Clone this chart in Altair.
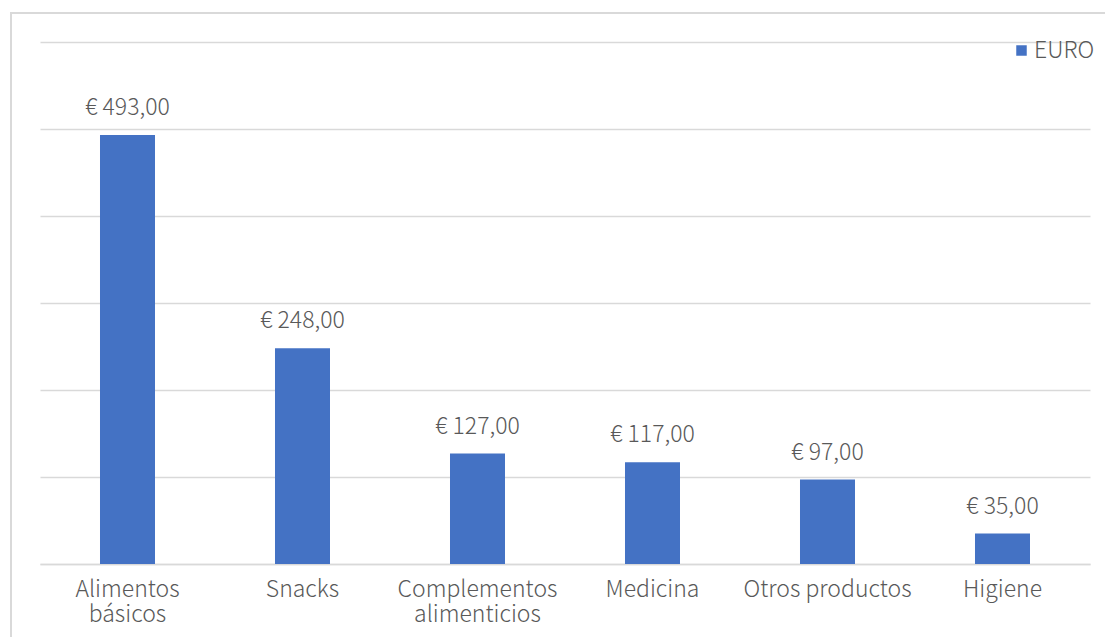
import altair as alt
import pandas as pd

categories = ["Alimentos\nbásicos", "Snacks", "Complementos\nalimenticios", "Medicina", "Otros productos", "Higiene"]
values = [493, 248, 127, 117, 97, 35]
series_name = "EURO"

df = pd.DataFrame({
    "cat": categories,
    "val": values,
    "serie": [series_name] * len(categories),
    "label": ["€ " + f"{v:.2f}".replace(".", ",") for v in values],
})

FONT = "Noto Sans CJK SC"
TXT = "#595959"
GRID = "#d9d9d9"
BLUE = "#4472C4"
FS = 23

x = alt.X("cat:N", sort=categories, title=None,
          scale=alt.Scale(paddingInner=0.6857, paddingOuter=0.34285),
          axis=alt.Axis(labelAngle=0, ticks=False, domain=True, domainColor=GRID, domainWidth=1.5,
                        grid=False,
                        labelFont=FONT, labelFontSize=FS, labelColor=TXT, labelFontWeight=300,
                        labelPadding=14, labelLineHeight=25,
                        labelExpr="split(datum.label, '\\n')"))
y = alt.Y("val:Q", title=None, scale=alt.Scale(domain=[0, 600], nice=False),
          axis=alt.Axis(values=[0, 100, 200, 300, 400, 500, 600], labels=False, ticks=False,
                        domain=False, grid=True, gridColor=GRID, gridWidth=1.5))

bars = alt.Chart(df).mark_bar(color=BLUE).encode(
    x=x, y=y,
    color=alt.Color("serie:N", scale=alt.Scale(range=[BLUE]), title=None,
                    legend=alt.Legend(orient="none", legendX=970, legendY=-3, symbolType="square",
                                      symbolSize=110, symbolStrokeWidth=0, labelFont=FONT,
                                      labelFontSize=FS, labelFontWeight=300, labelColor=TXT,
                                      labelOffset=1)),
)

labels = alt.Chart(df).mark_text(baseline="middle", dy=-27, font=FONT, fontSize=FS,
                                 fontWeight=300, color=TXT).encode(
    x=alt.X("cat:N", sort=categories), y="val:Q", text="label:N")

border = alt.Chart(pd.DataFrame({"a": [0]})).mark_rect(
    fill=None, stroke=GRID, strokeWidth=2).encode(
    x=alt.value(-29), x2=alt.value(1100), y=alt.value(-29), y2=alt.value(620))

chart = alt.layer(border, bars, labels).properties(
    width=1050, height=522,
    padding={"left": 40, "top": 42, "right": 15, "bottom": 73},
    autosize=alt.AutoSizeParams(type="none"),
).configure(background="white").configure_view(strokeWidth=0)

chart.save("out.html", embed_options={"renderer": "svg", "actions": False})
